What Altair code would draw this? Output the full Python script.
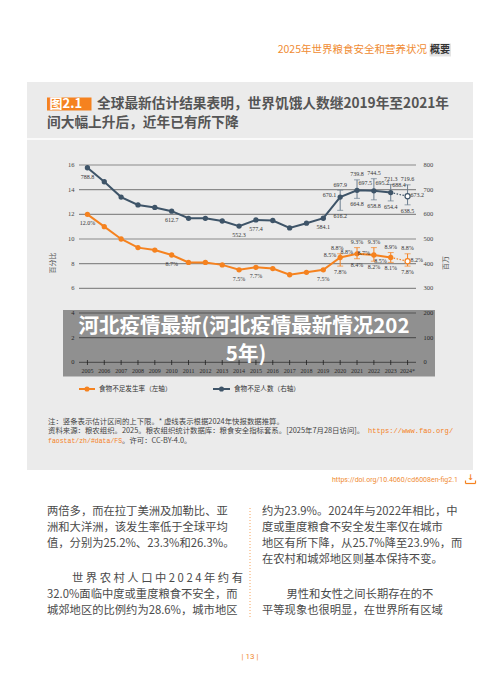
import altair as alt
import pandas as pd

# ---- series -------------------------------------------------------------
years = list(range(2005, 2025))
year_labels = [str(y) for y in range(2005, 2024)] + ["2024*"]
prevalence = [12.0, 11.0, 10.0, 9.3, 9.1, 8.7, 8.1, 8.1, 7.9, 7.5,
              7.7, 7.6, 7.1, 7.3, 7.5, 8.5, 8.8, 8.7, 8.5, 8.2]
undernourished = [788.8, 732.0, 670.0, 638.0, 628.0, 612.7, 584.0, 584.0, 573.0, 552.3,
                  577.4, 575.0, 545.0, 564.0, 584.1, 670.1, 697.5, 695.2, 688.4, 673.2]

# estimate ranges (lower / upper bounds)
range_years = [2020, 2021, 2022, 2023, 2024]
prev_low = [7.8, 8.4, 8.2, 8.1, 7.8]
prev_high = [8.8, 9.3, 9.3, 8.9, 8.8]
num_low = [616.2, 664.8, 658.8, 654.4, 638.5]
num_high = [697.9, 739.8, 744.5, 721.3, 719.6]

pct_ticks = [0, 2, 4, 6, 8, 10, 12, 14, 16]
num_ticks = [0, 100, 200, 300, 400, 500, 600, 700, 800]

# ---- page text ----------------------------------------------------------
header_left = "2025年世界粮食安全和营养状况"
header_right = "概要"
fig_no = "图2.1"
title_lines = ["全球最新估计结果表明，世界饥饿人数继2019年至2021年",
               "间大幅上升后，近年已有所下降"]
legend_labels = ["食物不足发生率（左轴）", "食物不足人数（右轴）"]
note_1 = "注：竖条表示估计区间的上下限。* 虚线表示根据2024年快报数据推算。"
note_2 = "资料来源：粮农组织。2025。粮农组织统计数据库：粮食安全指标套系。[2025年7月28日访问]。"
note_url_a = "https://www.fao.org/"
note_url_b = "faostat/zh/#data/FS"
note_3 = "。许可：CC-BY-4.0。"
doi = "https://doi.org/10.4060/cd6008en-fig2.1"
banner_lines = ["河北疫情最新(河北疫情最新情况202", "5年)"]
body_left = ["两倍多，而在拉丁美洲及加勒比、亚",
             "洲和大洋洲，该发生率低于全球平均",
             "值，分别为25.2%、23.3%和26.3%。",
             "世 界 农 村 人 口 中 2 0 2 4 年 约 有",
             "32.0%面临中度或重度粮食不安全，而",
             "城郊地区的比例约为28.6%，城市地区"]
body_right = ["约为23.9%。2024年与2022年相比，中",
              "度或重度粮食不安全发生率仅在城市",
              "地区有所下降，从25.7%降至23.9%，而",
              "在农村和城郊地区则基本保持不变。",
              "男性和女性之间长期存在的不",
              "平等现象也很明显，在世界所有区域"]
page_no = "| 13 |"

# ---- styling ------------------------------------------------------------
ORANGE = "#F5821F"
NAVY = "#3E5468"
NAVY_BAR = "#6A7D8F"
PANEL = "#EBEBEB"
GRID = "#8A8A8A"
CJK = "Noto Sans CJK SC"
NUM = "Liberation Serif"

X = alt.Scale(domain=[2004.5, 2024.5], range=[79, 416], nice=False, zero=False)
YP = alt.Scale(domain=[0, 16], range=[362.3, 165], nice=False, zero=False)
YN = alt.Scale(domain=[0, 800], range=[362.3, 165], nice=False, zero=False)

one = pd.DataFrame({"k": [0]})


def txt(s, x, y, **kw):
    return alt.Chart(pd.DataFrame({"t": [s]})).mark_text(**kw).encode(
        text="t:N", x=alt.value(x), y=alt.value(y))


def box(x1, x2, y1, y2, **kw):
    return alt.Chart(one).mark_rect(**kw).encode(
        x=alt.value(x1), x2=alt.value(x2), y=alt.value(y1), y2=alt.value(y2))


def seg(x1, x2, y1, y2, **kw):
    return alt.Chart(one).mark_rule(**kw).encode(
        x=alt.value(x1), x2=alt.value(x2), y=alt.value(y1), y2=alt.value(y2))


series = pd.DataFrame({"year": years, "label": year_labels,
                       "pct": prevalence, "num": undernourished})
solid = series[series.year <= 2023]
proj = series[series.year >= 2023]
last = series[series.year == 2024]
ranges = pd.DataFrame({"year": range_years, "plo": prev_low, "phi": prev_high,
                       "nlo": num_low, "nhi": num_high})

layers = []

# page background pieces
layers.append(box(27, 473, 82, 470, color=PANEL))
layers.append(seg(27, 473, 139, 139, color="white", strokeWidth=1.5))
layers.append(txt(header_left, 427, 50, font=CJK, fontSize=10.5, color="#F08C33", align="right", baseline="middle"))
layers.append(box(429.5, 451, 43.5, 56.5, color="#E4E4E4"))
layers.append(txt(header_right, 450, 50, font=CJK, fontSize=10, fontWeight="bold", color="#333333", align="right", baseline="middle"))
layers.append(box(47, 91.5, 97.5, 110.5, color=ORANGE))
layers.append(txt(fig_no, 49.5, 104, font=CJK, fontSize=13, fontWeight="bold", color="white", align="left", baseline="middle"))
layers.append(txt(title_lines[0], 97, 104, font=CJK, fontSize=13.7, fontWeight="bold", color="#555555", align="left", baseline="middle"))
layers.append(txt(title_lines[1], 47, 122.5, font=CJK, fontSize=13.7, fontWeight="bold", color="#555555", align="left", baseline="middle"))

# grid + axes
grid_df = pd.DataFrame({"v": pct_ticks})
layers.append(alt.Chart(grid_df).mark_rule(color=GRID, strokeWidth=1.2).encode(
    y=alt.Y("v:Q", scale=YP, axis=None), x=alt.value(79), x2=alt.value(416)))
layers.append(alt.Chart(grid_df).mark_text(font=NUM, fontSize=6.5, color="#444444", align="right", baseline="middle").encode(
    y=alt.Y("v:Q", scale=YP, axis=None), x=alt.value(74.5), text="v:Q"))
layers.append(alt.Chart(pd.DataFrame({"v": num_ticks})).mark_text(font=NUM, fontSize=6.5, color="#444444", align="left", baseline="middle").encode(
    y=alt.Y("v:Q", scale=YN, axis=None), x=alt.value(423.5), text="v:Q"))
layers.append(alt.Chart(series).mark_rule(color="#333333", strokeWidth=0.8).encode(
    x=alt.X("year:Q", scale=X, axis=None), y=alt.value(360), y2=alt.value(365)))
layers.append(alt.Chart(series).mark_text(font=NUM, fontSize=6, color="#444444", align="center", baseline="middle").encode(
    x=alt.X("year:Q", scale=X, axis=None), y=alt.value(370.7), text="label:N"))
layers.append(txt("百分比", 52.7, 263, font=CJK, fontSize=7, color="#555555", angle=270, align="center", baseline="middle"))
layers.append(txt("百万", 446, 263, font=CJK, fontSize=7, color="#555555", angle=270, align="center", baseline="middle"))

# estimate ranges
for lo, hi, sc, col in [("plo", "phi", YP, ORANGE), ("nlo", "nhi", YN, NAVY_BAR)]:
    layers.append(alt.Chart(ranges).mark_rule(color=col, strokeWidth=1).encode(
        x=alt.X("year:Q", scale=X, axis=None), y=alt.Y(f"{lo}:Q", scale=sc, axis=None), y2=f"{hi}:Q"))
    for f in (lo, hi):
        layers.append(alt.Chart(ranges).mark_tick(color=col, size=6, thickness=1, orient="horizontal").encode(
            x=alt.X("year:Q", scale=X, axis=None), y=alt.Y(f"{f}:Q", scale=sc, axis=None)))

# lines and points
for field, sc, col in [("pct", YP, ORANGE), ("num", YN, NAVY)]:
    layers.append(alt.Chart(solid).mark_line(color=col, strokeWidth=2).encode(
        x=alt.X("year:Q", scale=X, axis=None), y=alt.Y(f"{field}:Q", scale=sc, axis=None)))
    layers.append(alt.Chart(proj).mark_line(color=col, strokeWidth=1.2, strokeDash=[1.5, 1.5]).encode(
        x=alt.X("year:Q", scale=X, axis=None), y=alt.Y(f"{field}:Q", scale=sc, axis=None)))
    layers.append(alt.Chart(solid).mark_point(color=col, filled=True, size=28, opacity=1).encode(
        x=alt.X("year:Q", scale=X, axis=None), y=alt.Y(f"{field}:Q", scale=sc, axis=None)))
    layers.append(alt.Chart(last).mark_point(color=col, fill="white", filled=False, size=26, strokeWidth=1.2, opacity=1).encode(
        x=alt.X("year:Q", scale=X, axis=None), y=alt.Y(f"{field}:Q", scale=sc, axis=None)))

# value labels: (year, value, placement)
pct_lab = pd.DataFrame({
    "year": [2005, 2010, 2014, 2015, 2019, 2020, 2021, 2022, 2023, 2024,
             2020, 2021, 2022, 2023, 2024, 2020, 2021, 2022, 2023, 2024],
    "v": [prevalence[0], prevalence[5], prevalence[9], prevalence[10], prevalence[14],
          prevalence[15], prevalence[16], prevalence[17], prevalence[18], prevalence[19],
          *prev_high, *prev_low],
    "pos": ["below"] * 5 + ["left", "left", "left", "leftdown", "right"]
           + ["aboveleft"] + ["above"] * 4 + ["under"] * 5,
})
pct_lab["t"] = pct_lab.v.map(lambda v: f"{v:.1f}%")
num_lab = pd.DataFrame({
    "year": [2005, 2010, 2014, 2015, 2019, 2020, 2021, 2022, 2023, 2024,
             2020, 2021, 2022, 2023, 2024, 2020, 2021, 2022, 2023, 2024],
    "v": [undernourished[0], undernourished[5], undernourished[9], undernourished[10], undernourished[14],
          undernourished[15], undernourished[16], undernourished[17], undernourished[18], undernourished[19],
          *num_high, *num_low],
    "pos": ["below"] * 5 + ["left", "upright", "upright", "upright", "right"] + ["above"] * 5 + ["under"] * 5,
})
num_lab["t"] = num_lab.v.map(lambda v: f"{v:.1f}")

placements = {
    "below": dict(dx=0, dy=9, align="center"),
    "above": dict(dx=0, dy=-5.5, align="center"),
    "aboveleft": dict(dx=-3, dy=-5.5, align="center"),
    "under": dict(dx=0, dy=6, align="center"),
    "left": dict(dx=-4, dy=-2, align="right"),
    "leftdown": dict(dx=-4, dy=4, align="right"),
    "right": dict(dx=3, dy=-1.5, align="left"),
    "upright": dict(dx=1.5, dy=-7.5, align="left"),
}
for df, sc in [(pct_lab, YP), (num_lab, YN)]:
    for pos, kw in placements.items():
        sub = df[df.pos == pos]
        if len(sub) == 0:
            continue
        layers.append(alt.Chart(sub).mark_text(font=NUM, fontSize=6.0, color="#333333", baseline="middle", **kw).encode(
            x=alt.X("year:Q", scale=X, axis=None), y=alt.Y("v:Q", scale=sc, axis=None), text="t:N"))

# legend
layers.append(seg(79, 95, 389, 389, color=ORANGE, strokeWidth=2))
layers.append(alt.Chart(one).mark_point(color=ORANGE, filled=True, size=26, opacity=1).encode(x=alt.value(87), y=alt.value(389)))
layers.append(txt(legend_labels[0], 99, 389, font=CJK, fontSize=6.6, color="#333333", align="left", baseline="middle"))
layers.append(seg(213, 230, 389, 389, color=NAVY, strokeWidth=2))
layers.append(alt.Chart(one).mark_point(color=NAVY, filled=True, size=26, opacity=1).encode(x=alt.value(221.5), y=alt.value(389)))
layers.append(txt(legend_labels[1], 234, 389, font=CJK, fontSize=6.6, color="#333333", align="left", baseline="middle"))

# notes
layers.append(txt(note_1, 48, 421.7, font=CJK, fontSize=7.4, color="#444444", align="left", baseline="middle"))
layers.append(txt(note_2, 48, 431.3, font=CJK, fontSize=7.4, color="#444444", align="left", baseline="middle"))
layers.append(txt(note_url_a, 368, 431.3, font="Liberation Mono", fontSize=7.1, color=ORANGE, align="left", baseline="middle"))
layers.append(txt(note_url_b, 48, 440.8, font="Liberation Mono", fontSize=6.5, color=ORANGE, align="left", baseline="middle"))
layers.append(txt(note_3, 122, 440.8, font=CJK, fontSize=7.4, color="#444444", align="left", baseline="middle"))

# overlay banner
layers.append(box(63, 435, 310, 376.5, color="black", opacity=0.39))
layers.append(txt(banner_lines[0], 244, 327, font=CJK, fontSize=20.5, fontWeight="bold", color="white", align="center", baseline="middle"))
layers.append(txt(banner_lines[1], 246, 355, font=CJK, fontSize=20.5, fontWeight="bold", color="white", align="center", baseline="middle"))

# below the panel
layers.append(txt(doi, 458, 479.7, font="Roboto", fontSize=7, color="#F08C33", align="right", baseline="middle"))
layers.append(txt("↓", 470.5, 477.5, font="DejaVu Sans", fontSize=8, fontWeight="bold", color=ORANGE, align="center", baseline="middle"))
layers.append(seg(465.5, 475.5, 483.5, 483.5, color=ORANGE, strokeWidth=1.2))
layers.append(seg(465.5, 465.5, 480.5, 483.5, color=ORANGE, strokeWidth=1.2))
layers.append(seg(475.5, 475.5, 480.5, 483.5, color=ORANGE, strokeWidth=1.2))

left_y = [512.3, 528.3, 544.3, 579, 595, 611]
right_y = [512.3, 528.3, 544.3, 560.3, 595, 611]
for i, line in enumerate(body_left):
    x0 = 72 if i == 3 else 47
    layers.append(txt(line, x0, left_y[i], font=CJK, fontSize=11.3, color="#4A4A4A", align="left", baseline="middle"))
for i, line in enumerate(body_right):
    x0 = 286.5 if i == 4 else 262
    layers.append(txt(line, x0, right_y[i], font=CJK, fontSize=11.3, color="#4A4A4A", align="left", baseline="middle"))
layers.append(seg(250, 250, 508, 617, color="#F5A25A", strokeWidth=1, strokeDash=[1, 2]))
layers.append(txt(page_no, 250, 656.7, font="Roboto", fontSize=8, color="#F08C33", align="center", baseline="middle"))

chart = alt.layer(*layers).resolve_scale(y="independent").properties(
    width=500, height=687, autosize="none", padding=0, background="white"
).configure_view(stroke=None)

chart.save("out.html", embed_options={"renderer": "svg", "actions": False})
